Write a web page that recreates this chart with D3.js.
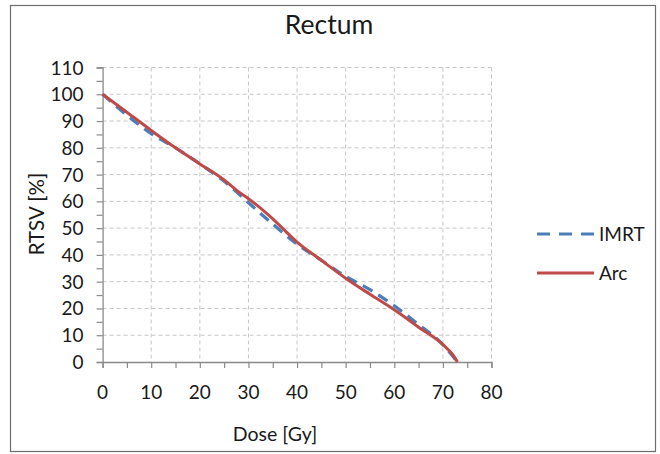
<!DOCTYPE html>
<html>
<head>
<meta charset="utf-8">
<script src="https://cdn.jsdelivr.net/npm/d3@7"></script>
<style>
  body { margin: 0; background: #fff; }
  svg text { font-family: Lato, "Open Sans", sans-serif; fill: #1a1a1a; }
</style>
</head>
<body>
<script>
// dose values in Gy, volume in %
var imrtDose = [0, 5, 10, 15, 20, 25, 30, 35, 40, 45, 50, 55, 60, 65, 70, 73]
var imrtVol  = [100, 92.2, 85.3, 80, 74, 67.5, 59.5, 51.5, 44, 38, 32, 27, 21, 14, 6.5, 0]
var arcDose  = [0, 5, 10, 15, 20, 25, 28, 30, 35, 40, 45, 50, 55, 60, 65, 70, 72, 73]
var arcVol   = [100, 93.3, 86.5, 80, 74, 68, 63.5, 61, 53.5, 44.8, 38, 31.3, 25.3, 19.5, 13, 6.5, 2.8, 0]
var xTicks = [0, 10, 20, 30, 40, 50, 60, 70, 80]
var yTicks = [0, 10, 20, 30, 40, 50, 60, 70, 80, 90, 100, 110]
var seriesNames = ['IMRT', 'Arc']

var W = 660, H = 454
var pL = 102.6, pR = 491.5, pT = 67.5, pB = 362

var svg = d3.select('body').append('svg')
  .attr('width', W).attr('height', H)

// outer frame
svg.append('rect')
  .attr('x', 10.5).attr('y', 5.5).attr('width', 645).attr('height', 446)
  .attr('fill', 'none').attr('stroke', '#6e6e6e').attr('stroke-width', 1.2)

var x = d3.scaleLinear().domain([0, 80]).range([pL, pR])
var y = d3.scaleLinear().domain([0, 110]).range([pB, pT])

// grid
var grid = svg.append('g')
grid.selectAll('.gx').data(xTicks.slice(1)).enter().append('line')
  .attr('x1', d => x(d)).attr('x2', d => x(d))
  .attr('y1', pT).attr('y2', pB)
  .attr('stroke', '#c6c6c6').attr('stroke-dasharray', '4,3')
grid.selectAll('.gy').data(yTicks.slice(1)).enter().append('line')
  .attr('x1', pL).attr('x2', pR)
  .attr('y1', d => y(d)).attr('y2', d => y(d))
  .attr('stroke', '#c6c6c6').attr('stroke-dasharray', '4,3')

// axes
var xAxis = d3.axisBottom(x).tickValues(d3.range(0, 81, 5)).tickSize(6).tickFormat('')
var yAxis = d3.axisLeft(y).tickValues(d3.range(0, 111, 5)).tickSize(6).tickFormat('')
svg.append('g').attr('transform', 'translate(0,' + pB + ')').call(xAxis)
svg.append('g').attr('transform', 'translate(' + pL + ',0)').call(yAxis)
svg.selectAll('.domain').attr('stroke', '#8a8a8a').attr('stroke-width', 1.3)
svg.selectAll('.tick line').attr('stroke', '#8a8a8a').attr('stroke-width', 1.2)

svg.append('g').selectAll('text').data(xTicks).enter().append('text')
  .attr('x', d => x(d)).attr('y', pB + 37)
  .attr('text-anchor', 'middle').style('font-size', '19px')
  .text(d => d)
svg.append('g').selectAll('text').data(yTicks).enter().append('text')
  .attr('x', pL - 19).attr('y', d => y(d) + 7)
  .attr('text-anchor', 'end').style('font-size', '19px')
  .text(d => d)

// titles
svg.append('text').attr('x', 329).attr('y', 34)
  .attr('text-anchor', 'middle').style('font-size', '26.5px').text('Rectum')
svg.append('text').attr('x', 275).attr('y', 441)
  .attr('text-anchor', 'middle').style('font-size', '19.5px').text('Dose [Gy]')
svg.append('text').attr('transform', 'translate(44,214) rotate(-90)')
  .attr('text-anchor', 'middle').style('font-size', '20.5px').text('RTSV [%]')

// curves
var line = d3.line().x(d => x(d[0])).y(d => y(d[1])).curve(d3.curveMonotoneX)
var imrt = imrtDose.map((d, i) => [d, imrtVol[i]])
var arc = arcDose.map((d, i) => [d, arcVol[i]])

svg.append('path').datum(imrt).attr('d', line)
  .attr('fill', 'none').attr('stroke', '#4a7ebb').attr('stroke-width', 3.2)
  .attr('stroke-dasharray', '11,7')
svg.append('path').datum(arc).attr('d', line)
  .attr('fill', 'none').attr('stroke', '#be4b48').attr('stroke-width', 3)

// legend
var colors = ['#4a7ebb', '#be4b48']
var dashes = ['13,9', null]
var lg = svg.append('g')
seriesNames.forEach(function(name, i){
  var ly = 234 + i * 39
  lg.append('line').attr('x1', 537).attr('x2', 594).attr('y1', ly).attr('y2', ly)
    .attr('stroke', colors[i]).attr('stroke-width', 3)
    .attr('stroke-dasharray', dashes[i])
  lg.append('text').attr('x', 599).attr('y', ly + 7)
    .style('font-size', '19px').text(name)
})
</script>
</body>
</html>
